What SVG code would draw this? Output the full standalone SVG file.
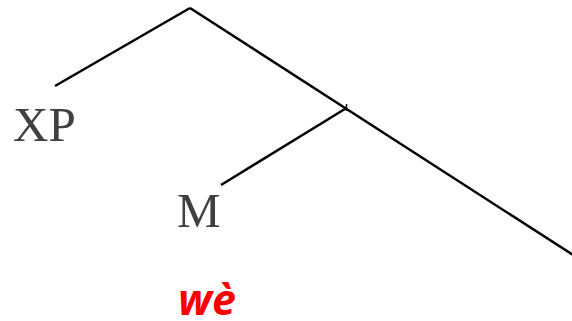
<svg xmlns="http://www.w3.org/2000/svg" width="572" height="321" viewBox="0 0 572 321">
<style>
.edge{stroke:#000;stroke-width:2.5;fill:none;stroke-linecap:butt}
.lbl{font-family:"Liberation Serif","Times New Roman",serif;fill:#404040;font-size:49px}
.red{font-family:"Open Sans","Noto Sans",sans-serif;font-weight:bold;font-style:italic;fill:#ff0000;font-size:43px}
</style>
<rect width="572" height="321" fill="#fff"/>
<g id="connectors">
<line class="edge" x1="55" y1="86" x2="190" y2="8"/>
<line class="edge" x1="190" y1="8" x2="573" y2="255"/>
<line class="edge" x1="346.5" y1="108" x2="221" y2="185"/>
<line class="edge" x1="346.5" y1="104" x2="346.5" y2="111" style="stroke-width:1.5"/>
</g>
<g id="XP"><text class="lbl" x="13" y="141">XP</text></g>
<g id="M"><text class="lbl" x="177" y="227">M</text></g>
<g id="we"><text class="red" x="178" y="315">wè</text></g>
</svg>
